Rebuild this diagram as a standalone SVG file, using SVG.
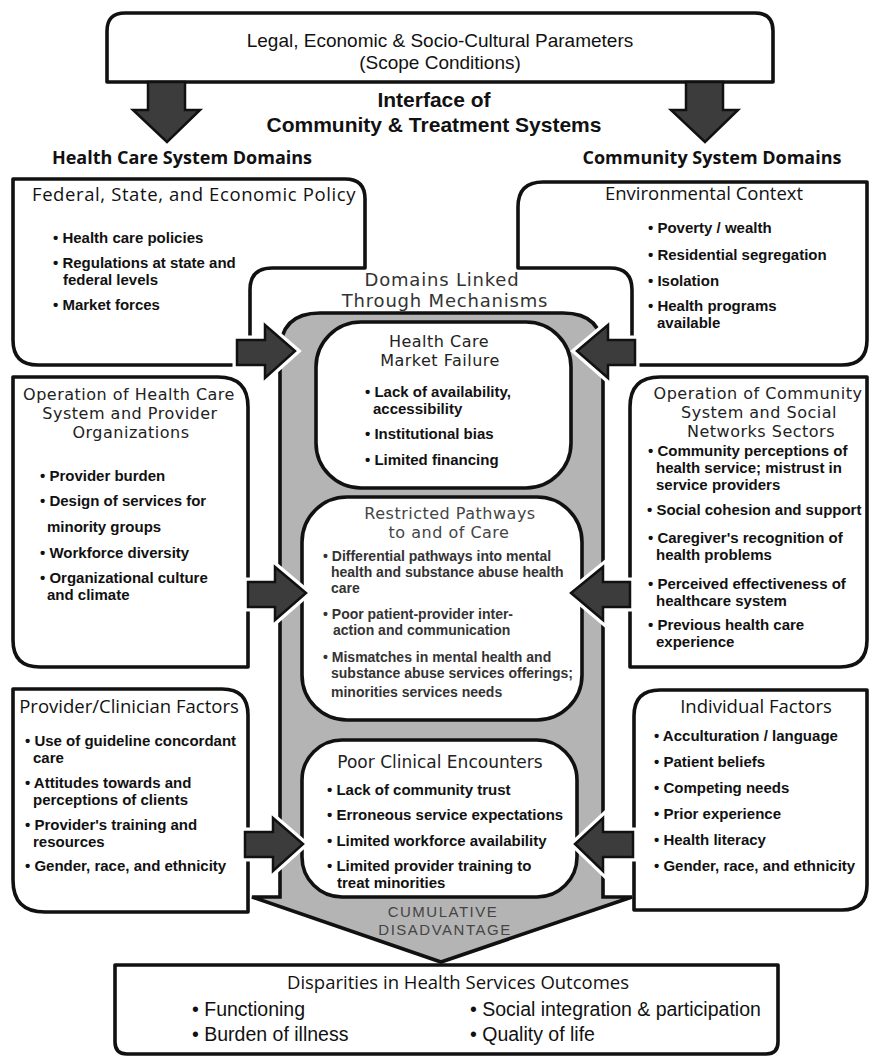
<svg xmlns="http://www.w3.org/2000/svg" width="871" height="1057" viewBox="0 0 871 1057">
<style>
.box{fill:#fff;stroke:#111;stroke-width:3.6;stroke-linejoin:round}
.funnel{fill:#b4b4b4;stroke:#111;stroke-width:3.6;stroke-linejoin:miter}
.t{font-family:"Open Sans","Liberation Sans",sans-serif;fill:#111}
.l{font-family:"Liberation Sans",Arial,sans-serif;fill:#111}
.title{font-size:18.5px;text-anchor:middle}
.wide{font-family:"DejaVu Sans","Open Sans",sans-serif;font-size:17px;text-anchor:middle;fill:#222}
.w16{font-size:16px;letter-spacing:0.5px}
.hd{font-size:18px;font-weight:700;text-anchor:middle}
.b{font-size:15px;font-weight:700}
.bs{font-size:14px;font-weight:700;fill:#333}
.out{font-size:19.5px}
.cd{font-size:15px;letter-spacing:1.5px;text-anchor:middle;fill:#444}
.aw{fill:none;stroke:#fff;stroke-width:9;stroke-linejoin:miter}
.ak{fill:#3c3c3c;stroke:#111;stroke-width:2.5;stroke-linejoin:miter}
</style>

<g id="scope">
<path class="box" d="M125,13 H755 Q773,13 773,31 V82 H107 V31 Q107,13 125,13 Z"/>
<text class="l" x="440" y="47" font-size="19" text-anchor="middle">Legal, Economic &amp; Socio-Cultural Parameters</text>
<text class="l" x="440" y="69" font-size="19" text-anchor="middle">(Scope Conditions)</text>
</g>

<g id="interface-label">
<text class="l" x="434" y="107" font-size="21" font-weight="700" text-anchor="middle">Interface of</text>
<text class="l" x="434" y="132" font-size="21" font-weight="700" text-anchor="middle">Community &amp; Treatment Systems</text>
<text class="t hd" x="182" y="164">Health Care System Domains</text>
<text class="t hd" x="712" y="164">Community System Domains</text>
</g>

<g id="federal">
<path class="box" d="M13,179 H345 Q365,179 365,199 V268 H272 Q250,268 250,290 V365 H38 Q13,365 13,340 Z"/>
<text class="t title" x="194" y="201" letter-spacing="0.6">Federal, State, and Economic Policy</text>
<text class="l b" x="53" y="243">• Health care policies</text>
<text class="l b" x="53" y="268">• Regulations at state and</text>
<text class="l b" x="63" y="285">federal levels</text>
<text class="l b" x="53" y="310">• Market forces</text>
</g>

<g id="environmental">
<path class="box" d="M543,182 H867 V340 Q867,365 842,365 H632 V290 Q632,268 610,268 H518 V207 Q518,182 543,182 Z"/>
<text class="t title" x="704" y="200">Environmental Context</text>
<text class="l b" x="648" y="233">• Poverty / wealth</text>
<text class="l b" x="648" y="260">• Residential segregation</text>
<text class="l b" x="648" y="286">• Isolation</text>
<text class="l b" x="648" y="311">• Health programs</text>
<text class="l b" x="657" y="328">available</text>
</g>

<g id="operation-health-care">
<path class="box" d="M13,377 H218 Q248,377 248,407 V667 H40 Q13,667 13,640 Z"/>
<text class="wide w16" x="129" y="400">Operation of Health Care</text>
<text class="wide w16" x="130" y="419">System and Provider</text>
<text class="wide w16" x="131" y="438">Organizations</text>
<text class="l b" x="40" y="481">• Provider burden</text>
<text class="l b" x="40" y="506">• Design of services for</text>
<text class="l b" x="47" y="532">minority groups</text>
<text class="l b" x="40" y="558">• Workforce diversity</text>
<text class="l b" x="40" y="583">• Organizational culture</text>
<text class="l b" x="47" y="600">and climate</text>
</g>

<g id="operation-community">
<path class="box" d="M660,377 H867 V640 Q867,667 840,667 H630 V407 Q630,377 660,377 Z"/>
<text class="wide w16" x="758" y="399">Operation of Community</text>
<text class="wide w16" x="759" y="418">System and Social</text>
<text class="wide w16" x="761" y="437">Networks Sectors</text>
<text class="l b" x="648" y="456">• Community perceptions of</text>
<text class="l b" x="656" y="473">health service; mistrust in</text>
<text class="l b" x="656" y="490">service providers</text>
<text class="l b" x="647" y="515">• Social cohesion and support</text>
<text class="l b" x="648" y="543">• Caregiver's recognition of</text>
<text class="l b" x="656" y="560">health problems</text>
<text class="l b" x="648" y="589">• Perceived effectiveness of</text>
<text class="l b" x="656" y="606">healthcare system</text>
<text class="l b" x="648" y="630">• Previous health care</text>
<text class="l b" x="656" y="647">experience</text>
</g>

<g id="provider-clinician">
<path class="box" d="M13,689 H222 Q248,689 248,715 V912 H45 Q13,912 13,880 Z"/>
<text class="t title" x="129" y="713">Provider/Clinician Factors</text>
<text class="l b" x="25" y="746">• Use of guideline concordant</text>
<text class="l b" x="33" y="763">care</text>
<text class="l b" x="25" y="788">• Attitudes towards and</text>
<text class="l b" x="33" y="805">perceptions of clients</text>
<text class="l b" x="25" y="830">• Provider's training and</text>
<text class="l b" x="33" y="847">resources</text>
<text class="l b" x="25" y="871">• Gender, race, and ethnicity</text>
</g>

<g id="individual">
<path class="box" d="M660,690 H867 V885 Q867,910 842,910 H634 V716 Q634,690 660,690 Z"/>
<text class="t title" x="756" y="713">Individual Factors</text>
<text class="l b" x="654" y="741">• Acculturation / language</text>
<text class="l b" x="654" y="767">• Patient beliefs</text>
<text class="l b" x="654" y="793">• Competing needs</text>
<text class="l b" x="654" y="819">• Prior experience</text>
<text class="l b" x="654" y="845">• Health literacy</text>
<text class="l b" x="654" y="871">• Gender, race, and ethnicity</text>
</g>

<g id="cumulative-disadvantage">
<path class="funnel" d="M252,897 L441,962 L632,897 H603 V353 Q603,313 563,313 H320 Q280,313 280,353 V897 Z"/>
<text class="l cd" x="443" y="917">CUMULATIVE</text>
<text class="l cd" x="445" y="935">DISADVANTAGE</text>
</g>

<g id="domains-linked">
<text class="wide" x="442" y="286" style="font-size:18px;letter-spacing:0.8px;fill:#333">Domains Linked</text>
<text class="wide" x="445" y="307" style="font-size:18px;letter-spacing:0.8px;fill:#333">Through Mechanisms</text>
</g>

<g id="market-failure">
<rect class="box" x="316" y="322" width="255" height="166" rx="45"/>
<text class="wide w16" x="439" y="347">Health Care</text>
<text class="wide w16" x="440" y="366">Market Failure</text>
<text class="l b" x="365" y="397">• Lack of availability,</text>
<text class="l b" x="373" y="414">accessibility</text>
<text class="l b" x="365" y="439">• Institutional bias</text>
<text class="l b" x="365" y="465">• Limited financing</text>
</g>

<g id="restricted-pathways">
<rect class="box" x="302" y="497" width="280" height="223" rx="45"/>
<text class="wide w16" x="450" y="519" style="fill:#444">Restricted Pathways</text>
<text class="wide w16" x="449" y="538" style="fill:#444">to and of Care</text>
<text class="l bs" x="323" y="561">• Differential pathways into mental</text>
<text class="l bs" x="331" y="577">health and substance abuse health</text>
<text class="l bs" x="331" y="593">care</text>
<text class="l bs" x="323" y="619">• Poor patient-provider inter-</text>
<text class="l bs" x="333" y="635">action and communication</text>
<text class="l bs" x="323" y="662">• Mismatches in mental health and</text>
<text class="l bs" x="331" y="678">substance abuse services offerings;</text>
<text class="l bs" x="331" y="697">minorities services needs</text>
</g>

<g id="poor-clinical-encounters">
<rect class="box" x="302" y="740" width="275" height="157" rx="40"/>
<text class="wide" x="440" y="768">Poor Clinical Encounters</text>
<text class="l b" x="327" y="795">• Lack of community trust</text>
<text class="l b" x="327" y="820">• Erroneous service expectations</text>
<text class="l b" x="327" y="846">• Limited workforce availability</text>
<text class="l b" x="327" y="871">• Limited provider training to</text>
<text class="l b" x="337" y="888">treat minorities</text>
</g>

<g id="disparities">
<path class="box" d="M115,965 H778 V1042 Q778,1054 766,1054 H127 Q115,1054 115,1042 Z"/>
<text class="t title" x="458" y="989">Disparities in Health Services Outcomes</text>
<text class="l out" x="192" y="1016">• Functioning</text>
<text class="l out" x="192" y="1041">• Burden of illness</text>
<text class="l out" x="470" y="1016">• Social integration &amp; participation</text>
<text class="l out" x="470" y="1041">• Quality of life</text>
</g>

<g id="connectors">
<defs>
<path id="a-down-l" d="M148,82 H185 V110 H200 L167,142 L133,110 H148 Z"/>
<path id="a-down-r" d="M686,82 H723 V110 H738 L705,142 L671,110 H686 Z"/>
<path id="a-l1" d="M237,340 H265 V325 L295,351 L265,378 V365 H237 Z"/>
<path id="a-r1" d="M635,340 H608 V325 L577,351 L608,378 V365 H635 Z"/>
<path id="a-l2" d="M248,582 H275 V567 L306,593 L275,620 V607 H248 Z"/>
<path id="a-r2" d="M630,582 H603 V567 L571,593 L603,620 V607 H630 Z"/>
<path id="a-l3" d="M245,832 H273 V818 L303,844 L273,871 V857 H245 Z"/>
<path id="a-r3" d="M633,832 H603 V818 L575,844 L603,871 V857 H633 Z"/>
</defs>
<use href="#a-down-l" class="ak"/>
<use href="#a-down-r" class="ak"/>
<use href="#a-l1" class="aw"/><use href="#a-l1" class="ak"/>
<use href="#a-r1" class="aw"/><use href="#a-r1" class="ak"/>
<use href="#a-l2" class="aw"/><use href="#a-l2" class="ak"/>
<use href="#a-r2" class="aw"/><use href="#a-r2" class="ak"/>
<use href="#a-l3" class="aw"/><use href="#a-l3" class="ak"/>
<use href="#a-r3" class="aw"/><use href="#a-r3" class="ak"/>
</g>
</svg>
